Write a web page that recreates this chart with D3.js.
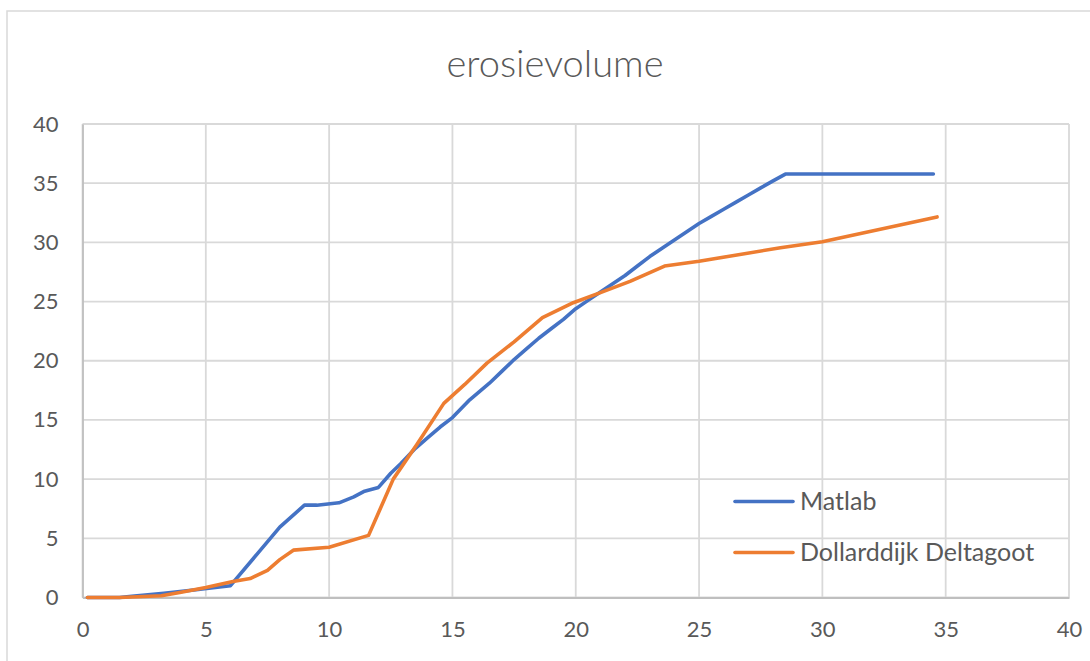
<!DOCTYPE html>
<html>
<head>
<meta charset="utf-8">
<script src="https://cdn.jsdelivr.net/npm/d3@7"></script>
<style>
  html, body { margin: 0; padding: 0; background: #ffffff; }
  svg { display: block; }
  text { font-family: Lato, "Open Sans", sans-serif; fill: #595959; }
</style>
</head>
<body>
<svg id="chart" width="1090" height="661"></svg>
<script>
// Erosion volume over time: Matlab model vs. Delta flume measurement
const chartTitle = "erosievolume";
const seriesNames = ["Matlab", "Dollarddijk Deltagoot"];
const seriesColors = ["#4472C4", "#ED7D31"];

const matlabX = [0.2, 1.5, 2.0, 3.3, 4.6, 6.0, 8.0, 9.0, 9.5, 10.4, 11.0, 11.4, 12.0, 12.5, 12.9, 13.5, 14.0, 14.5, 15.0,
  15.7, 16.5, 17.0, 17.5, 18.0, 18.5, 19.0, 19.5, 20.0, 20.5, 21.0, 21.5, 22.0, 22.5, 23.0, 23.5, 24.0, 24.5, 25.0,
  25.5, 26.0, 26.5, 27.0, 27.5, 28.0, 28.5, 34.5];
const matlabY = [0, 0, 0.1, 0.35, 0.65, 1.0, 5.95, 7.8, 7.8, 8.0, 8.5, 8.95, 9.3, 10.5, 11.3, 12.6, 13.5, 14.4, 15.2,
  16.7, 18.1, 19.1, 20.1, 21.0, 21.9, 22.7, 23.5, 24.4, 25.1, 25.8, 26.5, 27.2, 28.0, 28.8, 29.5, 30.2, 30.9, 31.6,
  32.2, 32.8, 33.4, 34.0, 34.6, 35.2, 35.77, 35.77];

const deltagootX = [0.2, 1.5, 3.2, 4.0, 5.0, 6.1, 6.8, 7.5, 8.0, 8.55, 10.0, 11.6, 12.6, 13.55, 14.65, 15.5, 16.4, 17.5,
  18.65, 19.9, 21.0, 22.2, 23.6, 25.0, 28.3, 30.0, 34.65];
const deltagootY = [0, 0, 0.15, 0.45, 0.85, 1.35, 1.6, 2.3, 3.2, 4.0, 4.25, 5.25, 10.0, 12.9, 16.4, 18.0, 19.8, 21.6,
  23.65, 24.9, 25.75, 26.7, 28.0, 28.4, 29.55, 30.05, 32.15];

const xTicks = [0, 5, 10, 15, 20, 25, 30, 35, 40];
const yTicks = [0, 5, 10, 15, 20, 25, 30, 35, 40];

const series = [
  { name: seriesNames[0], color: seriesColors[0], points: matlabX.map((x, i) => [x, matlabY[i]]) },
  { name: seriesNames[1], color: seriesColors[1], points: deltagootX.map((x, i) => [x, deltagootY[i]]) }
];

const svg = d3.select("#chart");
const W = 1090, H = 661;
const plot = { left: 82.5, right: 1069, top: 124, bottom: 597.5 };

// chart frame
svg.append("rect")
  .attr("x", 7).attr("y", 11)
  .attr("width", W + 20).attr("height", H + 20)
  .attr("fill", "#ffffff")
  .attr("stroke", "#d9d9d9").attr("stroke-width", 1.5);

const x = d3.scaleLinear().domain([0, 40]).range([plot.left, plot.right]);
const y = d3.scaleLinear().domain([0, 40]).range([plot.bottom, plot.top]);

// gridlines
const grid = svg.append("g");
grid.selectAll("line.h").data(yTicks).join("line")
  .attr("x1", plot.left).attr("x2", plot.right)
  .attr("y1", d => y(d)).attr("y2", d => y(d))
  .attr("stroke", "#d9d9d9").attr("stroke-width", 1.8);
grid.selectAll("line.v").data(xTicks).join("line")
  .attr("y1", plot.top).attr("y2", plot.bottom)
  .attr("x1", d => x(d)).attr("x2", d => x(d))
  .attr("stroke", "#d9d9d9").attr("stroke-width", 1.8);

// axes
const xAxis = svg.append("g")
  .attr("transform", `translate(0,${plot.bottom})`)
  .call(d3.axisBottom(x).tickValues(xTicks).tickSize(0).tickPadding(24));
xAxis.select(".domain").attr("stroke", "#bfbfbf").attr("stroke-width", 1.8);
xAxis.selectAll(".tick text")
  .style("font-size", "22px").attr("fill", "#595959");

const yAxis = svg.append("g")
  .attr("transform", `translate(${plot.left},0)`)
  .call(d3.axisLeft(y).tickValues(yTicks).tickSize(0).tickPadding(24));
yAxis.select(".domain").attr("stroke", "#bfbfbf").attr("stroke-width", 1.8);
yAxis.selectAll(".tick text")
  .style("font-size", "22px").attr("fill", "#595959");

// series lines
const line = d3.line().x(d => x(d[0])).y(d => y(d[1]));
svg.append("g").selectAll("path").data(series).join("path")
  .attr("d", d => line(d.points))
  .attr("fill", "none")
  .attr("stroke", d => d.color)
  .attr("stroke-width", 3.6)
  .attr("stroke-linejoin", "round")
  .attr("stroke-linecap", "round");

// title
svg.append("text")
  .attr("x", 555).attr("y", 77)
  .attr("text-anchor", "middle")
  .style("font-size", "38px")
  .style("font-weight", 300)
  .text(chartTitle);

// legend
const legend = svg.append("g").attr("transform", "translate(735,501.5)");
const item = legend.selectAll("g").data(series).join("g")
  .attr("transform", (d, i) => `translate(0,${i * 51})`);
item.append("line")
  .attr("x1", 0).attr("x2", 58).attr("y1", 0).attr("y2", 0)
  .attr("stroke", d => d.color).attr("stroke-width", 3.6)
  .attr("stroke-linecap", "round");
item.append("text")
  .attr("x", 65).attr("y", 0).attr("dy", "0.35em")
  .style("font-size", "25px")
  .text(d => d.name);
</script>
</body>
</html>
